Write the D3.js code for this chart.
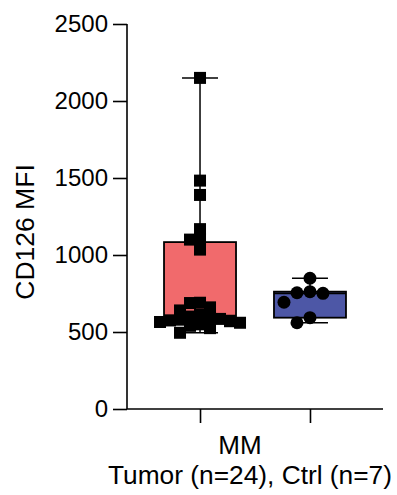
<!DOCTYPE html>
<html>
<head>
<meta charset="utf-8">
<script src="https://cdn.jsdelivr.net/npm/d3@7"></script>
<style>
	body { margin: 0; background: white; }
	text { font-family: "Liberation Sans", Arial, sans-serif; fill: black; }
</style>
</head>
<body>
<script>
// data
var groups = ["Tumor", "Ctrl"];
var groupColors = ["#F16A6C", "#4D57A6"];
var tumorValues = [2150, 1483, 1390, 1168, 1104, 1100, 1035,
	690, 688, 660, 640, 612, 600, 590, 585, 580, 575, 570, 565, 560, 550, 540, 525, 495];
var ctrlValues = [849, 762, 755, 751, 693, 593, 560];
var yTicks = [0, 500, 1000, 1500, 2000, 2500];
var yTitle = "CD126 MFI";
var xTitle1 = "MM";
var xTitle2 = "Tumor (n=24), Ctrl (n=7)";

var params = {
	width: 397,
	height: 495,
	left: 127,
	right: 383,
	top: 24,
	bottom: 409,
	boxWidth: 72,
	capWidth: 36,
	markerSize: 12,
	fontsize: 24
};

var svg = d3.select("body").append("svg")
	.attr("width", params.width)
	.attr("height", params.height);

var y = d3.scaleLinear()
	.domain([0, 2500])
	.range([params.bottom, params.top]);

var x = d3.scalePoint()
	.domain(groups)
	.range([params.left, params.right])
	.padding(0.664);

// quartiles the Prism way ((n+1) ranks)
function quart(sorted, p){
	var r = p*(sorted.length + 1) - 1;
	var lo = Math.floor(r), hi = Math.ceil(r);
	lo = Math.max(0, Math.min(sorted.length - 1, lo));
	hi = Math.max(0, Math.min(sorted.length - 1, hi));
	return sorted[lo] + (r - Math.floor(r))*(sorted[hi] - sorted[lo]);
}

function stats(vals){
	var s = vals.slice().sort(d3.ascending);
	return {min: s[0], max: s[s.length - 1], q1: quart(s, 0.25), med: quart(s, 0.5), q3: quart(s, 0.75)};
}

// simple swarm so markers sit side by side like in Prism
// lim = how close two markers may get (smaller -> more overlap)
function swarm(vals, lim, step){
	var placed = [];
	return vals.map(function(v){
		var py = y(v);
		for (var k = 0; k < 60; k++){
			var off = (k % 2 ? -1 : 1)*Math.ceil(k/2)*step;
			var hit = placed.some(function(p){
				return Math.abs(p.dx - off) < lim && Math.abs(p.y - py) < lim;
			});
			if (!hit) break;
		}
		var pt = {v: v, y: py, dx: off};
		placed.push(pt);
		return pt;
	});
}

var data = [tumorValues, ctrlValues];
var swarmLim = [9, 12.5];
var swarmStep = [5, 6.5];

data.forEach(function(vals, i){
	var g = svg.append("g").attr("class", "group");
	var cx = x(groups[i]);
	var st = stats(vals);

	// whisker
	g.append("line")
		.attr("x1", cx).attr("x2", cx)
		.attr("y1", y(st.min)).attr("y2", y(st.max))
		.style("stroke", "black").style("stroke-width", 1.5);
	[st.min, st.max].forEach(function(v){
		g.append("line")
			.attr("x1", cx - params.capWidth/2).attr("x2", cx + params.capWidth/2)
			.attr("y1", y(v)).attr("y2", y(v))
			.style("stroke", "black").style("stroke-width", 1.5);
	});

	// box
	g.append("rect")
		.attr("x", cx - params.boxWidth/2)
		.attr("width", params.boxWidth)
		.attr("y", y(st.q3))
		.attr("height", y(st.q1) - y(st.q3))
		.style("fill", groupColors[i])
		.style("stroke", "black")
		.style("stroke-width", 1.8);
	g.append("line")
		.attr("x1", cx - params.boxWidth/2).attr("x2", cx + params.boxWidth/2)
		.attr("y1", y(st.med)).attr("y2", y(st.med))
		.style("stroke", "black").style("stroke-width", 1.8);

	// points
	var pts = swarm(vals, swarmLim[i], swarmStep[i]);
	if (i == 0){
		g.selectAll(".pt").data(pts).enter().append("rect")
			.attr("class", "pt")
			.attr("x", function(d){ return cx + d.dx - params.markerSize/2; })
			.attr("y", function(d){ return d.y - params.markerSize/2; })
			.attr("width", params.markerSize)
			.attr("height", params.markerSize)
			.style("fill", "black");
	} else {
		g.selectAll(".pt").data(pts).enter().append("circle")
			.attr("class", "pt")
			.attr("cx", function(d){ return cx + d.dx; })
			.attr("cy", function(d){ return d.y; })
			.attr("r", params.markerSize/2 + 0.5)
			.style("fill", "black");
	}
});

// axes
var yAxis = svg.append("g")
	.attr("transform", "translate(" + params.left + ",0)")
	.call(d3.axisLeft(y).tickValues(yTicks).tickFormat(d3.format("d"))
		.tickSize(14).tickSizeOuter(0).tickPadding(5));
var xAxis = svg.append("g")
	.attr("transform", "translate(0," + params.bottom + ")")
	.call(d3.axisBottom(x).tickSize(14).tickSizeOuter(0).tickFormat(""));
[yAxis, xAxis].forEach(function(a){
	a.selectAll("path, line").style("stroke", "black").style("stroke-width", 1.6);
	a.selectAll("text")
		.style("font-family", "'Liberation Sans', Arial, sans-serif")
		.style("font-size", params.fontsize + "px")
		.style("fill", "black");
});
yAxis.select(".domain").attr("d", "M0," + params.bottom + "V" + params.top);
xAxis.select(".domain").attr("d", "M" + params.left + ",0H" + params.right);

// titles
svg.append("text")
	.attr("transform", "translate(34,232)rotate(-90)")
	.attr("text-anchor", "middle")
	.style("font-size", "26.5px")
	.text(yTitle);

svg.append("text")
	.attr("x", 240).attr("y", 454)
	.attr("text-anchor", "middle")
	.style("font-size", "26px")
	.text(xTitle1);
svg.append("text")
	.attr("x", 250).attr("y", 484)
	.attr("text-anchor", "middle")
	.style("font-size", "26.3px")
	.text(xTitle2);
</script>
</body>
</html>
